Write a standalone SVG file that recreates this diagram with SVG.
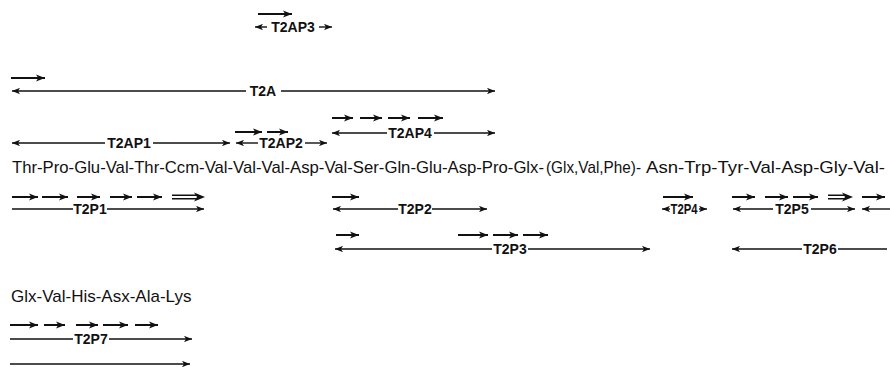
<svg xmlns="http://www.w3.org/2000/svg" width="890" height="367" viewBox="0 0 890 367">
<style>
.seq{font-family:"Liberation Sans",Arial,sans-serif;font-size:17px;fill:#111}
.lbl{font-family:"Liberation Sans",Arial,sans-serif;font-size:14px;font-weight:bold;fill:#111;text-anchor:middle}
.ln{stroke:#111;stroke-width:1.4;fill:none;marker-end:url(#ah)}
.pl{stroke:#111;stroke-width:1.4;fill:none}
.sa{stroke:#111;stroke-width:2;fill:none;marker-end:url(#ah2)}
.dl{stroke:#111;stroke-width:1.4;fill:none}
.hd{fill:#111}
</style>
<defs>
<marker id="ah" viewBox="0 0 10 8" refX="10" refY="4" markerWidth="8" markerHeight="6.4" markerUnits="userSpaceOnUse" orient="auto">
<path d="M0,0 L10,4 L0,8 L2.5,4 z" fill="#111"/>
</marker>
<marker id="ah2" viewBox="0 0 10 8" refX="10" refY="4" markerWidth="9" markerHeight="7.5" markerUnits="userSpaceOnUse" orient="auto">
<path d="M0,0 L10,4 L0,8 L2.5,4 z" fill="#111"/>
</marker>
</defs>
<rect width="890" height="367" fill="#fff"/>

<g id="sequence1">
<text class="seq" x="12" y="173" textLength="532" lengthAdjust="spacingAndGlyphs">Thr-Pro-Glu-Val-Thr-Ccm-Val-Val-Val-Asp-Val-Ser-Gln-Glu-Asp-Pro-Glx-</text>
<text class="seq" x="546" y="173" textLength="95" lengthAdjust="spacingAndGlyphs">(Glx,Val,Phe)-</text>
<text class="seq" x="646" y="173" textLength="239" lengthAdjust="spacingAndGlyphs">Asn-Trp-Tyr-Val-Asp-Gly-Val-</text>
</g>
<g id="sequence2">
<text class="seq" x="11" y="302">Glx-Val-His-Asx-Ala-Lys</text>
</g>

<g id="T2AP3">
<path class="sa" d="M258,14 H292"/>
<path class="ln" d="M267,27 H255"/>
<text class="lbl" x="293" y="32">T2AP3</text>
<path class="ln" d="M319,27 H332"/>
</g>

<g id="T2A">
<path class="sa" d="M11,78 H45"/>
<path class="ln" d="M246,91 H12"/>
<text class="lbl" x="263" y="96">T2A</text>
<path class="ln" d="M281,91 H495"/>
</g>

<g id="T2AP1">
<path class="ln" d="M105,143 H12"/>
<text class="lbl" x="129" y="148">T2AP1</text>
<path class="ln" d="M153,143 H230"/>
</g>

<g id="T2AP2">
<path class="sa" d="M235,132 H262"/>
<path class="sa" d="M267,132 H288"/>
<path class="ln" d="M258,143 H236"/>
<text class="lbl" x="281" y="148">T2AP2</text>
<path class="ln" d="M305,143 H327"/>
</g>

<g id="T2AP4">
<path class="sa" d="M332,118 H353"/>
<path class="sa" d="M360,118 H382"/>
<path class="sa" d="M388,118 H410"/>
<path class="sa" d="M418,118 H443"/>
<path class="ln" d="M387,133 H332"/>
<text class="lbl" x="410" y="138">T2AP4</text>
<path class="ln" d="M434,133 H495"/>
</g>

<g id="T2P1">
<path class="sa" d="M12,197 H38"/>
<path class="sa" d="M42,197 H68"/>
<path class="sa" d="M77,197 H100"/>
<path class="sa" d="M110,197 H132"/>
<path class="sa" d="M137,197 H162"/>
<path class="dl" d="M172,195.2 H198 M172,198.8 H198"/>
<path class="hd" d="M205,197 L194,192.5 L197,197 L194,201.5 z"/>
<path class="pl" d="M12,209 H73"/>
<text class="lbl" x="90" y="214">T2P1</text>
<path class="ln" d="M107,209 H204"/>
</g>

<g id="T2P2">
<path class="sa" d="M332,197 H359"/>
<path class="ln" d="M398,209 H333"/>
<text class="lbl" x="415" y="214">T2P2</text>
<path class="ln" d="M432,209 H487"/>
</g>

<g id="T2P3">
<path class="sa" d="M336,235 H359"/>
<path class="sa" d="M458,235 H488"/>
<path class="sa" d="M493,235 H518"/>
<path class="sa" d="M523,235 H548"/>
<path class="ln" d="M492,249 H335"/>
<text class="lbl" x="510" y="254">T2P3</text>
<path class="ln" d="M528,249 H650"/>
</g>

<g id="T2P4">
<path class="sa" d="M663,197 H693"/>
<path class="ln" d="M670,209 H662"/>
<text class="lbl" x="684" y="214" textLength="27" lengthAdjust="spacingAndGlyphs">T2P4</text>
<path class="ln" d="M699,209 H707"/>
</g>

<g id="T2P5">
<path class="sa" d="M732,197 H755"/>
<path class="sa" d="M765,197 H788"/>
<path class="sa" d="M793,197 H818"/>
<path class="dl" d="M828,195.2 H846 M828,198.8 H846"/>
<path class="hd" d="M853,197 L842,192.5 L845,197 L842,201.5 z"/>
<path class="sa" d="M862,197 H885"/>
<path class="ln" d="M773,209 H733"/>
<text class="lbl" x="792" y="214">T2P5</text>
<path class="ln" d="M811,209 H855"/>
<path class="ln" d="M890,209 H862"/>
</g>

<g id="T2P6">
<path class="ln" d="M802,249 H732"/>
<text class="lbl" x="820" y="254">T2P6</text>
<path class="pl" d="M838,249 H887"/>
</g>

<g id="T2P7">
<path class="sa" d="M10,325 H38"/>
<path class="sa" d="M44,325 H65"/>
<path class="sa" d="M76,325 H98"/>
<path class="sa" d="M103,325 H128"/>
<path class="sa" d="M135,325 H158"/>
<path class="pl" d="M10,339 H73"/>
<text class="lbl" x="91" y="344">T2P7</text>
<path class="ln" d="M109,339 H192"/>
</g>

<g id="line2">
<path class="ln" d="M10,364 H190"/>
</g>
</svg>
